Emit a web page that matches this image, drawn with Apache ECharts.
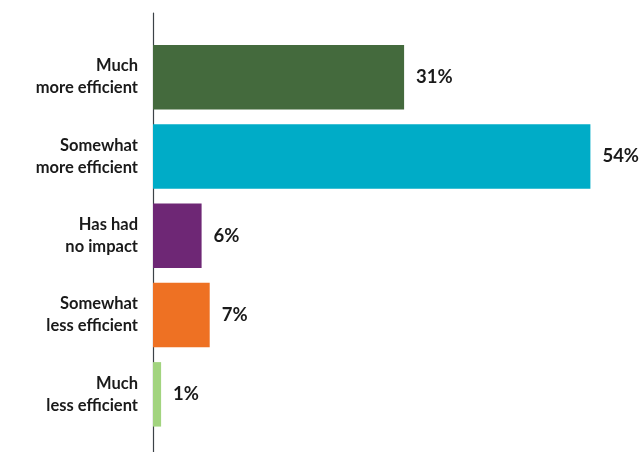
<!DOCTYPE html>
<html>
<head>
<meta charset="utf-8">
<script src="https://cdn.jsdelivr.net/npm/echarts@6/dist/echarts.min.js"></script>
<style>
  html, body { margin: 0; padding: 0; background: #ffffff; }
  #chart { width: 642px; height: 452px; }
</style>
</head>
<body>
<div id="chart"></div>
<script>
// Survey responses: effect on efficiency
const categories = [
  'Much\nmore efficient',
  'Somewhat\nmore efficient',
  'Has had\nno impact',
  'Somewhat\nless efficient',
  'Much\nless efficient'
];
const shares = [31, 54, 6, 7, 1];
const barColors = ['#446a3d', '#00acc7', '#6e2775', '#ee7123', '#a2d47f'];

const FONT = 'Lato, "Open Sans", sans-serif';
const TEXT = '#1a1a1a';

const chart = echarts.init(document.getElementById('chart'), null, { renderer: 'canvas' });

chart.setOption({
  animation: false,
  backgroundColor: '#ffffff',
  grid: [
    { left: 153, right: 3, top: 37.5, height: 396.5, containLabel: false },
    // thin grid used only for the full-height vertical axis rule
    { left: 153, width: 10, top: 13, bottom: 0, containLabel: false }
  ],
  xAxis: [
    { type: 'value', gridIndex: 0, min: 0, max: 60, show: false },
    { type: 'value', gridIndex: 1, min: 0, max: 1, show: false }
  ],
  yAxis: [
    {
      type: 'category',
      gridIndex: 0,
      data: categories,
      inverse: true,
      axisLine: { show: false },
      axisTick: { show: false },
      splitLine: { show: false },
      axisLabel: {
        margin: 15,
        fontFamily: FONT,
        fontWeight: 'bold',
        fontSize: 16.5,
        lineHeight: 22,
        color: TEXT,
        align: 'right'
      }
    },
    {
      type: 'category',
      gridIndex: 1,
      data: [''],
      axisLine: { show: true, lineStyle: { color: '#3c4247', width: 1.2 } },
      axisTick: { show: false },
      axisLabel: { show: false },
      splitLine: { show: false }
    }
  ],
  series: [
    {
      type: 'bar',
      xAxisIndex: 0,
      yAxisIndex: 0,
      data: shares.map((v, i) => ({ value: v, itemStyle: { color: barColors[i] } })),
      barCategoryGap: '18.7%',
      label: {
        show: true,
        position: 'right',
        distance: 12,
        formatter: '{c}%',
        fontFamily: FONT,
        fontWeight: 'bold',
        fontSize: 18.5,
        color: TEXT
      },
      z: 3
    }
  ]
});
</script>
</body>
</html>
